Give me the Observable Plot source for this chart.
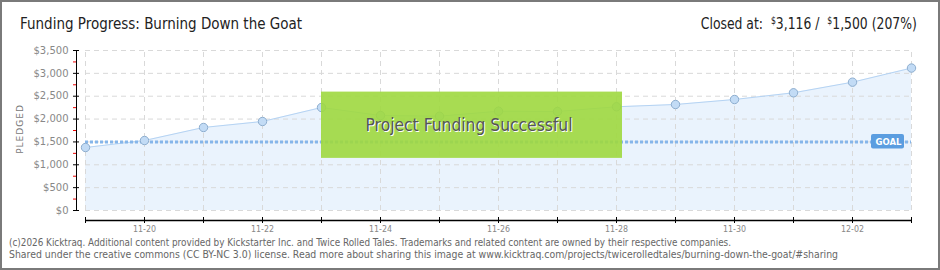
<!DOCTYPE html>
<html>
<head>
<meta charset="utf-8">
<script src="https://cdn.jsdelivr.net/npm/d3@7"></script>
<script src="https://cdn.jsdelivr.net/npm/@observablehq/plot@0.6"></script>
<style>
  body { margin: 0; background: #fff; }
  #wrap { position: relative; width: 940px; height: 270px; overflow: hidden; background: #fff; font-family: "DejaVu Sans", sans-serif; }
  #wrap svg { position: absolute; left: 0; top: 0; }
  #frame { position: absolute; left: 0; top: 0; width: 940px; height: 270px; box-sizing: border-box; border: 2px solid #7a7a7a; pointer-events: none; }
  .ttl { position: absolute; top: 16px; font-size: 16px; line-height: 16px; color: #222; white-space: nowrap; }
  #title { left: 20px; transform-origin: left center; }
  #closed { right: 23px; transform-origin: right center; }
  #closed sup { font-size: 10px; vertical-align: 5px; line-height: 0; }
  .foot { position: absolute; left: 9px; font-size: 10px; line-height: 12px; color: #666; white-space: nowrap; transform-origin: left center; }
  #pledged { position: absolute; left: 20px; top: 129px; font-size: 9px; letter-spacing: 1px; color: #777; transform: translate(-50%, -50%) rotate(-90deg); white-space: nowrap; }
</style>
</head>
<body>
<div id="wrap"></div>
<script>
// ---- data ----
const titleText = "Funding Progress: Burning Down the Goat";
const dates = ["2025-11-19","2025-11-20","2025-11-21","2025-11-22","2025-11-23","2025-11-24","2025-11-25","2025-11-26","2025-11-27","2025-11-28","2025-11-29","2025-11-30","2025-12-01","2025-12-02","2025-12-03"];
const pledged = [1378, 1531, 1816, 1947, 2253, 2078, 2063, 2172, 2166, 2269, 2319, 2428, 2575, 2807, 3116];
const goal = 1500;
const closedAt = 3116;
const yTicks = [0, 500, 1000, 1500, 2000, 2500, 3000, 3500];
const yMinorTicks = [250, 750, 1250, 1750, 2250, 2750, 3250];
const xTickLabels = ["2025-11-20","2025-11-22","2025-11-24","2025-11-26","2025-11-28","2025-11-30","2025-12-02"];
const successStart = "2025-11-23", successEnd = "2025-11-28", successLow = 1140, successHigh = 2590;
const successText = "Project Funding Successful";
const footer1 = "(c)2026 Kicktraq. Additional content provided by Kickstarter Inc. and Twice Rolled Tales. Trademarks and related content are owned by their respective companies.";
const footer2 = "Shared under the creative commons (CC BY-NC 3.0) license. Read more about sharing this image at www.kicktraq.com/projects/twicerolledtales/burning-down-the-goat/#sharing";

// ---- build ----
const P = d => new Date(d + "T00:00:00Z");
const data = dates.map((d, i) => ({date: P(d), value: pledged[i]}));
const days = dates.map(P);
const d0 = days[0], dEnd = days[days.length - 1];
const fmtMoney = d => "$" + d3.format(",")(d);
const fmtDay = d3.utcFormat("%m-%d");
const succMid = new Date((P(successStart).getTime() + P(successEnd).getTime()) / 2);

const chart = Plot.plot({
  width: 940, height: 270,
  marginLeft: 85, marginRight: 29, marginTop: 50, marginBottom: 60,
  style: {fontFamily: "DejaVu Sans, sans-serif", background: "transparent", overflow: "visible"},
  x: {type: "utc", domain: [d0, dEnd]},
  y: {domain: [0, 3500]},
  marks: [
    Plot.areaY(data, {x: "date", y: "value", fill: "#eaf3fd"}),
    Plot.ruleY(yTicks, {y: d => d, stroke: "#d9d9d9", strokeDasharray: "5,4"}),
    Plot.ruleX(days, {x: d => d, y1: 0, y2: 3500, stroke: "#d9d9d9", strokeDasharray: "5,4"}),
    Plot.lineY(data, {x: "date", y: "value", stroke: "#b5d3f3", strokeWidth: 1}),
    Plot.ruleY([goal], {y: d => d, stroke: "#86b6ea", strokeWidth: 3, strokeDasharray: "3,2"}),
    Plot.dot(data, {x: "date", y: "value", r: 4.2, fill: "#c2dbf5", stroke: "#8eaecf", strokeWidth: 1}),
    // success annotation
    Plot.rect([0], {x1: () => P(successStart), x2: () => P(successEnd), y1: () => successLow, y2: () => successHigh, insetRight: -6, fill: "#9ed83f", fillOpacity: 0.9}),
    Plot.text([successText], {x: () => succMid, y: () => (successLow + successHigh) / 2, text: d => d, fontSize: 18, fill: "#fff", dx: 1, dy: 1}),
    Plot.text([successText], {x: () => succMid, y: () => (successLow + successHigh) / 2, text: d => d, fontSize: 18, fill: "#555"}),
    // goal label
    Plot.rect([goal], {x1: () => dEnd, x2: () => dEnd, y1: d => d, y2: d => d, insetLeft: -40, insetRight: 7, insetTop: -7.5, insetBottom: -7, fill: "#5b9de0", rx: 2}),
    Plot.text(["GOAL"], {x: () => dEnd, y: () => goal, text: d => d, dx: -23, fontSize: 8.5, fontWeight: "bold", fill: "#fff"}),
    // y axis
    Plot.ruleX([d0], {x: d => d, y1: 0, y2: 3500, dx: -9, stroke: "#000"}),
    Plot.ruleY(yTicks, {y: d => d, x1: () => d0, x2: () => d0, insetLeft: -3, insetRight: -3, dx: -9, stroke: "#000"}),
    Plot.ruleY(yMinorTicks, {y: d => d, x1: () => d0, x2: () => d0, insetLeft: -3, insetRight: 0, dx: -9, stroke: "#e00"}),
    Plot.axisY({ticks: yTicks, tickSize: 0, tickPadding: 17, tickFormat: fmtMoney, fontSize: 10, fill: "#888", label: null}),
    // x axis
    Plot.ruleY([0], {y: d => d, x1: () => d0, x2: () => dEnd, dy: 10, stroke: "#000", strokeWidth: 1.3}),
    Plot.ruleX(days, {x: d => d, y1: 0, y2: 0, insetTop: -3, insetBottom: -3, dy: 10, stroke: "#000"}),
    Plot.axisX({ticks: xTickLabels.map(P), tickSize: 0, tickPadding: 15, tickFormat: fmtDay, fontSize: 9.5, fill: "#888", label: null})
  ]
});

const wrap = document.getElementById("wrap");
wrap.appendChild(chart);

// narrow the SVG texts to the widths they have in the reference
d3.select(chart).selectAll("text").each(function() {
  const t = this.textContent;
  if (t === successText) { this.setAttribute("textLength", 207); this.setAttribute("lengthAdjust", "spacingAndGlyphs"); }
  else if (/^\d\d-\d\d$/.test(t)) { this.setAttribute("textLength", 23); this.setAttribute("lengthAdjust", "spacingAndGlyphs"); }
});

function addDiv(id, cls, html, style) {
  const el = document.createElement("div");
  if (id) el.id = id;
  if (cls) el.className = cls;
  el.innerHTML = html;
  if (style) Object.assign(el.style, style);
  wrap.appendChild(el);
  return el;
}
// squeeze a text block horizontally to the width it has in the reference
function fit(el, target) {
  const w = el.getBoundingClientRect().width;
  if (w > 0) el.style.transform = "scaleX(" + (target / w) + ")";
}
const fmtC = d3.format(",");
const pct = Math.floor(closedAt / goal * 100);
fit(addDiv("title", "ttl", titleText), 282);
fit(addDiv("closed", "ttl", "Closed at:&nbsp; <sup>$</sup>" + fmtC(closedAt) + " / &nbsp;<sup>$</sup>" + fmtC(goal) + " (" + pct + "%)"), 216);
fit(addDiv(null, "foot", footer1, {top: "236.5px"}), 722);
fit(addDiv(null, "foot", footer2, {top: "248.5px"}), 829);
addDiv("pledged", null, "PLEDGED");
addDiv("frame", null, "");
</script>
</body>
</html>
